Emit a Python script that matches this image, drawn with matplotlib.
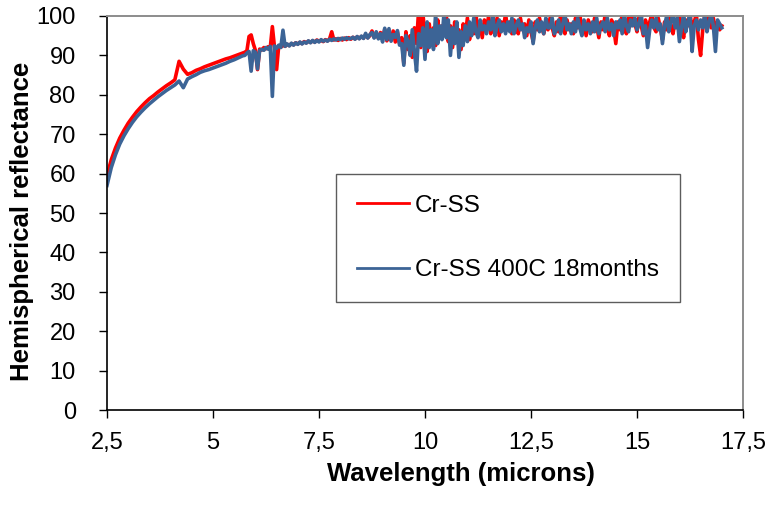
import numpy as np
import matplotlib
matplotlib.use("Agg")
import matplotlib.pyplot as plt

# ---------------- data ----------------
x_ticks = [2.5, 5, 7.5, 10, 12.5, 15, 17.5]
x_tick_labels = ["2,5", "5", "7,5", "10", "12,5", "15", "17,5"]
y_ticks = [0, 10, 20, 30, 40, 50, 60, 70, 80, 90, 100]
series_names = ["Cr-SS", "Cr-SS 400C 18months"]

# wavelength sampling of the three segments (microns)
wl_short = np.round(np.arange(2.5, 5.7001, 0.1), 2)
wl_mid = np.round(np.arange(5.75, 9.4001, 0.05), 2)
wl_long = np.round(np.arange(9.45, 17.0001, 0.05), 2)

red_short = [59.5, 63.5, 66.5, 69.0, 71.0, 72.8, 74.3, 75.7, 76.9, 78.0,
             79.0, 79.8, 80.7, 81.5, 82.3, 83.0, 83.8, 88.5, 86.5, 85.2,
             85.6, 86.2, 86.6, 87.1, 87.5, 87.9, 88.3, 88.7, 89.1, 89.4,
             89.8, 90.2, 90.6]
blue_short = [57.0, 61.5, 64.8, 67.5, 69.6, 71.4, 73.0, 74.4, 75.6, 76.7,
              77.7, 78.6, 79.5, 80.3, 81.1, 81.8, 82.5, 83.5, 81.8, 84.0,
              84.6, 85.1, 85.7, 86.1, 86.4, 86.8, 87.2, 87.6, 88.0, 88.5,
              88.9, 89.4, 89.9]

red_mid = [90.8, 91.2, 94.8, 95.2, 93.0, 91.3, 86.4, 91.6, 91.4, 92.0,
           91.7, 92.2, 91.9, 97.3, 92.1, 86.4, 92.4, 92.1, 92.6, 92.3,
           92.8, 92.5, 93.0, 92.7, 93.2, 92.9, 93.3, 93.0, 93.5, 93.2,
           93.6, 93.3, 93.7, 93.4, 93.9, 93.6, 93.8, 93.5, 94.0, 93.7,
           94.2, 96.0, 93.9, 94.2, 93.8, 94.3, 93.9, 94.4, 94.0, 94.5,
           94.1, 94.6, 94.2, 94.7, 94.3, 94.8, 94.4, 95.2, 94.5, 95.0,
           96.2, 94.6, 95.4, 94.4, 95.8, 94.2, 96.6, 93.7, 95.6, 94.0,
           96.2, 93.4, 95.9, 93.0]
blue_mid = [90.0, 90.6, 91.0, 86.0, 91.2, 90.8, 86.6, 91.2, 91.5, 91.3,
            92.0, 91.6, 92.3, 79.6, 92.4, 91.8, 92.6, 92.0, 96.4, 92.3,
            92.9, 92.4, 93.1, 92.6, 93.2, 92.8, 93.4, 92.9, 93.4, 93.1,
            93.7, 93.2, 93.8, 93.3, 93.8, 93.4, 94.0, 93.6, 93.9, 93.6,
            94.1, 93.8, 94.2, 93.9, 94.3, 94.0, 94.4, 94.1, 94.5, 94.2,
            94.3, 94.6, 94.1, 94.8, 94.2, 94.9, 94.3, 95.6, 94.4, 95.3,
            95.8, 94.4, 96.0, 94.2, 95.5, 93.4, 96.9, 94.0, 96.8, 93.6,
            95.3, 94.6, 96.3, 92.6]

red_long = [94.5, 88.0, 96.0, 91.5, 95.0, 89.5, 97.0, 93.0, 101.5, 92.0,
            100.5, 95.5, 91.0, 98.0, 93.5, 97.0, 92.5, 99.0, 94.5, 97.5,
            96.0, 100.5, 93.5, 97.5, 92.0, 98.5, 94.0, 96.5, 91.5, 98.0,
            95.0, 99.5, 94.0, 97.5, 95.5, 100.5, 96.0, 98.0, 94.5, 99.0,
            96.5, 100.0, 95.5, 98.0, 96.0, 99.5, 95.0, 98.5, 97.0, 100.5,
            96.5, 98.5, 95.5, 99.0, 97.0, 95.5, 99.5, 96.5, 98.0, 95.0,
            99.0, 96.0, 93.5, 98.5, 96.5, 99.5, 97.0, 95.5, 98.5, 96.5,
            99.5, 97.0, 95.0, 98.5, 96.0, 100.5, 97.5, 95.5, 99.0, 96.5,
            98.0, 95.5, 99.5, 97.0, 100.5, 96.5, 98.5, 95.0, 99.0, 97.5,
            96.0, 99.5, 97.5, 94.5, 98.5, 96.5, 100.5, 97.0, 95.0, 99.0,
            97.0, 93.0, 98.5, 96.5, 100.5, 97.0, 95.5, 99.5, 97.5, 101.0,
            98.0, 96.0, 100.0, 97.5, 95.0, 99.0, 96.5, 98.5, 100.5, 97.0,
            96.0, 99.5, 97.0, 94.0, 98.5, 96.5, 100.5, 97.5, 95.5, 99.0,
            97.0, 100.5, 96.5, 94.5, 99.0, 97.5, 101.0, 96.0, 98.5, 100.5,
            94.0, 90.0, 96.5, 100.5, 98.0, 100.5, 97.0, 99.5, 96.5, 98.5,
            96.5, 97.5]
blue_long = [93.0, 87.5, 95.0, 93.5, 90.0, 96.5, 91.0, 86.0, 95.5, 92.5,
             97.0, 89.0, 98.5, 92.0, 96.5, 91.5, 100.5, 93.0, 97.5, 94.0,
             101.0, 94.5, 99.0, 90.0, 97.0, 93.0, 98.5, 89.5, 96.0, 92.5,
             97.5, 93.5, 98.5, 95.0, 99.5, 96.0, 94.5, 99.0, 96.5, 97.5,
             95.5, 98.5, 96.5, 100.5, 95.0, 97.5, 99.0, 96.0, 98.0, 95.5,
             98.5, 96.0, 99.5, 95.5, 97.5, 99.0, 96.5, 98.0, 94.5, 97.0,
             96.0, 98.5, 93.0, 97.0, 99.0, 96.0, 98.5, 95.5, 99.5, 97.0,
             97.0, 99.5, 95.5, 96.5, 99.0, 95.5, 98.0, 100.5, 96.5, 98.0,
             95.5, 98.5, 96.0, 99.5, 97.0, 95.0, 99.0, 96.5, 98.0, 95.5,
             98.5, 96.0, 99.5, 95.5, 97.5, 98.5, 96.0, 99.5, 96.5, 98.0,
             95.0, 98.5, 97.0, 99.0, 95.5, 100.5, 97.5, 96.0, 99.0, 97.5,
             99.5, 96.5, 98.0, 100.5, 95.5, 97.5, 92.0, 96.5, 99.0, 97.0,
             99.5, 96.5, 98.0, 93.0, 97.5, 100.0, 96.0, 98.5, 100.5, 97.0,
             99.5, 93.5, 97.0, 100.5, 96.0, 98.5, 100.5, 91.0, 97.5, 99.0,
             96.5, 99.0, 97.0, 100.5, 96.0, 98.5, 100.5, 97.5, 91.0, 99.0,
             98.0, 97.0]

wavelength = np.concatenate([wl_short, wl_mid, wl_long])
red_refl = np.array(red_short + red_mid + red_long)
blue_refl = np.array(blue_short + blue_mid + blue_long)
n = min(len(wavelength), len(red_refl), len(blue_refl))

# ---------------- figure ----------------
plt.rcParams['font.family'] = ['Liberation Sans', 'DejaVu Sans']
W, H = 771, 511
fig = plt.figure(figsize=(W / 100, H / 100), dpi=100)
L, R, T, B = 107, 743, 16, 410
ax = fig.add_axes([L / W, (H - B) / H, (R - L) / W, (B - T) / H])

ax.plot(wavelength[:n], red_refl[:n], color='#FF0000', lw=2.6,
        label=series_names[0], solid_joinstyle='round')
ax.plot(wavelength[:n], blue_refl[:n], color='#3C6496', lw=2.6,
        label=series_names[1], solid_joinstyle='round')

ax.set_xlim(2.5, 17.5)
ax.set_ylim(0, 100)
ax.set_xticks(x_ticks)
ax.set_xticklabels(x_tick_labels)
ax.set_yticks(y_ticks)

ax.tick_params(axis='both', direction='out', length=5.5, width=1.0,
               labelsize=17, color='black')
ax.tick_params(axis='x', pad=10)
ax.tick_params(axis='y', pad=17)

for s in ['left', 'bottom']:
    ax.spines[s].set_color('black')
    ax.spines[s].set_linewidth(1.2)
for s in ['top', 'right']:
    ax.spines[s].set_color('#8C8C8C')
    ax.spines[s].set_linewidth(1.4)

ax.set_xlabel('Wavelength (microns)', fontsize=18.5, fontweight='bold')
ax.set_ylabel('Hemispherical reflectance', fontsize=18.5, fontweight='bold')
ax.xaxis.set_label_coords((461 - L) / (R - L), (B - 474) / (B - T))
ax.xaxis.label.set_va('center')
ax.yaxis.set_label_coords((22 - L) / (R - L), (B - 221) / (B - T))
ax.yaxis.label.set_va('center')

leg = ax.legend(loc='upper left',
                bbox_to_anchor=((336 - L) / (R - L), (B - 174) / (B - T)),
                borderaxespad=0, fontsize=17.5, frameon=True, fancybox=False,
                handlelength=2.15, handletextpad=0.25, borderpad=0.85,
                labelspacing=1.75)
leg.get_frame().set_edgecolor('#333333')
leg.get_frame().set_linewidth(1.0)
for line in leg.get_lines():
    line.set_linewidth(2.0)

fig.savefig('out.png', dpi=100)
